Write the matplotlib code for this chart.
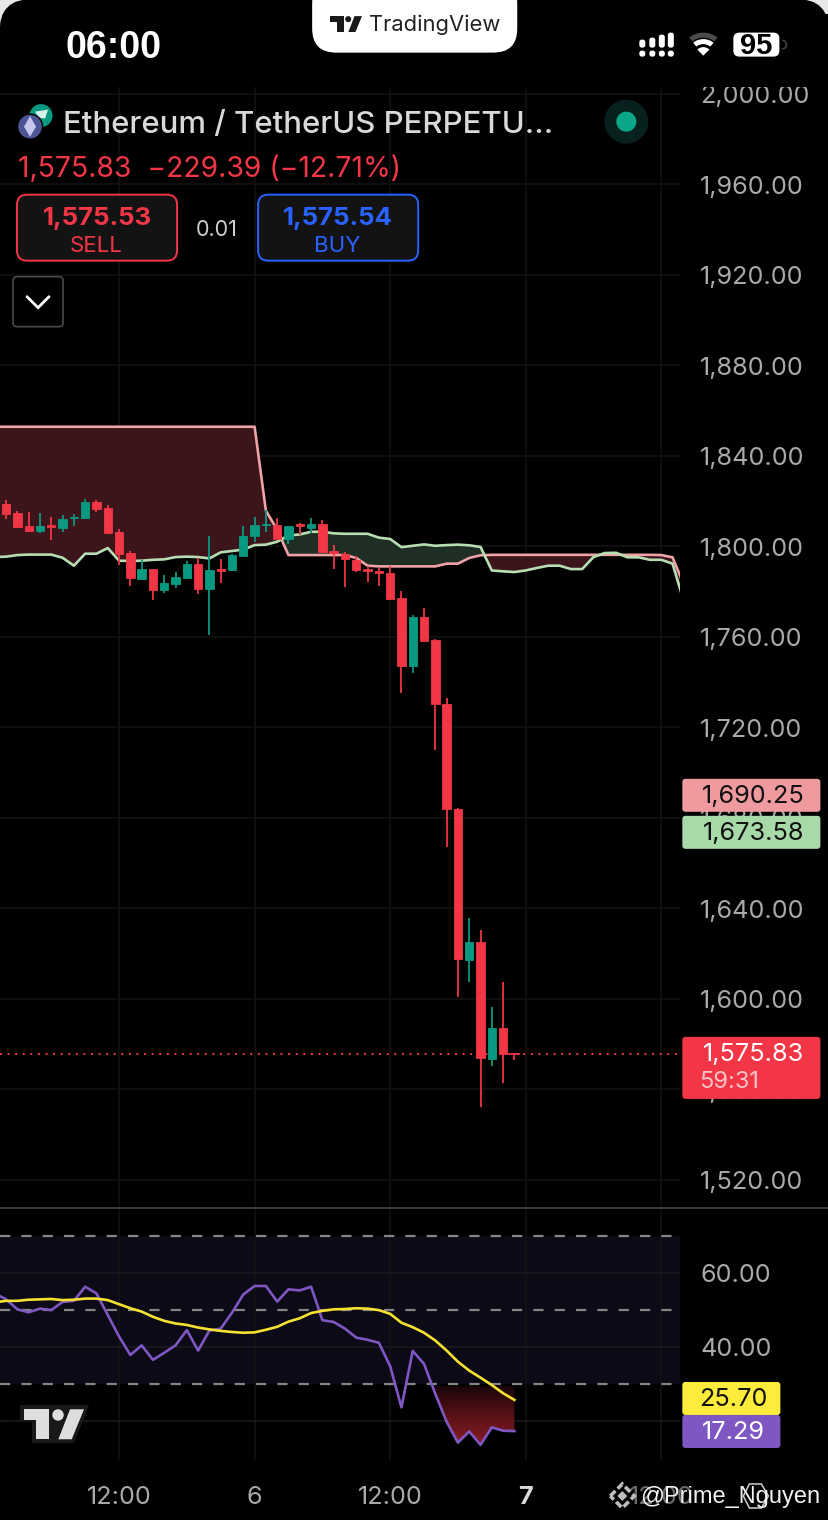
import numpy as np
import matplotlib
matplotlib.use('Agg')
from matplotlib import pyplot as plt
from matplotlib.patches import FancyBboxPatch, Rectangle, Circle, Polygon, Wedge
from matplotlib.colors import LinearSegmentedColormap

# ETH/USDT 1h candles
opens = [1818.5, 1814.7, 1808.8, 1806.7, 1809.2, 1808.0, 1812.5, 1812.6, 1819.5, 1817.0,
         1806.4, 1796.8, 1785.6, 1789.8, 1780.6, 1783.3, 1786.1, 1792.1, 1780.9, 1789.8,
         1789.3, 1795.8, 1804.6, 1809.4, 1809.4, 1803.2, 1809.7, 1808.0, 1809.9, 1797.7,
         1796.7, 1794.0, 1789.9, 1788.9, 1788.0, 1777.1, 1747.2, 1768.8, 1758.5, 1730.1,
         1684.0, 1617.2, 1625.2, 1573.6, 1586.9, 1576.1]
closes = [1814.4, 1808.5, 1806.7, 1809.1, 1808.6, 1812.2, 1813.0, 1819.5, 1816.6, 1806.0,
          1796.7, 1785.9, 1789.8, 1780.8, 1783.6, 1786.2, 1792.3, 1780.9, 1789.5, 1789.2,
          1796.3, 1804.6, 1809.2, 1809.9, 1803.2, 1808.8, 1809.1, 1809.9, 1797.3, 1797.1,
          1794.3, 1789.6, 1789.2, 1788.1, 1776.8, 1747.2, 1768.8, 1758.1, 1730.1, 1684.0,
          1617.7, 1625.3, 1573.9, 1586.9, 1575.7, 1575.83]
highs = [1820.6, 1815.4, 1815.0, 1814.7, 1812.9, 1813.8, 1814.4, 1820.9, 1820.6, 1818.2,
         1807.6, 1797.7, 1793.7, 1789.9, 1787.3, 1788.7, 1793.3, 1794.6, 1804.4, 1794.5,
         1796.7, 1809.1, 1812.9, 1816.1, 1812.6, 1809.1, 1810.2, 1812.6, 1811.7, 1800.5,
         1797.3, 1795.8, 1791.4, 1790.5, 1791.1, 1780.0, 1769.6, 1772.8, 1759.0, 1733.0,
         1684.4, 1635.8, 1630.2, 1596.6, 1607.5, 1576.1]
lows = [1812.0, 1807.9, 1806.1, 1805.8, 1802.9, 1806.1, 1809.1, 1812.6, 1815.3, 1805.5,
        1791.7, 1782.3, 1784.9, 1776.4, 1779.3, 1781.4, 1785.9, 1778.7, 1760.9, 1783.7,
        1789.2, 1795.5, 1801.7, 1806.1, 1803.2, 1800.8, 1804.9, 1805.8, 1797.3, 1789.9,
        1782.0, 1788.4, 1784.0, 1782.5, 1776.1, 1735.1, 1744.0, 1757.5, 1710.0, 1667.3,
        1601.0, 1607.6, 1552.4, 1570.1, 1563.0, 1573.0]
green_bars = [3, 5, 6, 7, 12, 14, 15, 16, 18, 20, 21, 22, 23, 25, 27, 36, 41, 43]

# cloud lines, first value sits one bar left of the first candle
cloud_green = [1795.2, 1795.4, 1796.1, 1796.3, 1796.3, 1796.3, 1794.9, 1791.4, 1796.7, 1796.7,
               1799.2, 1793.6, 1793.5, 1793.6, 1794.0, 1794.2, 1795.2, 1795.4, 1795.2, 1794.6,
               1797.3, 1797.9, 1798.5, 1800.5, 1800.7, 1802.0, 1804.8, 1805.2, 1806.4, 1806.4,
               1805.7, 1805.5, 1805.5, 1805.5, 1803.8, 1803.2, 1799.6, 1800.2, 1800.8, 1800.2,
               1800.5, 1800.7, 1800.4, 1799.7, 1789.3, 1788.9, 1788.6, 1789.3, 1790.4, 1791.4,
               1791.4, 1789.9, 1789.9, 1795.2, 1797.0, 1797.1, 1795.1, 1795.1, 1794.0, 1794.0,
               1792.3, 1775.6]
cloud_pink = [1852.8] * 24 + [1815.7, 1807.3] + [1796.1] * 6 + \
             [1794.8, 1791.4, 1791.1, 1791.1, 1791.1, 1791.1, 1791.1, 1791.1, 1792.3, 1792.3,
              1794.8, 1796.0] + [1796.2] * 15 + [1796.1, 1795.1, 1783.0]

# RSI panel
rsi = [54.4, 52.8, 50.1, 49.3, 50.3, 49.9, 52.1, 52.4, 56.2, 54.4,
       48.6, 42.8, 37.8, 40.4, 36.5, 38.4, 40.4, 44.5, 39.0, 44.4,
       44.9, 49.2, 54.1, 56.4, 56.4, 52.2, 55.5, 55.2, 56.2, 47.2,
       46.7, 44.9, 42.5, 41.9, 41.1, 34.8, 23.7, 38.9, 35.4, 27.3,
       19.8, 14.2, 17.2, 13.6, 18.3, 17.4, 17.29]
rsi_ma = [52.0, 52.4, 52.4, 52.7, 52.8, 52.9, 52.6, 52.7, 53.0, 53.0,
          52.6, 51.5, 50.4, 49.5, 48.1, 47.0, 46.3, 45.9, 45.2, 44.7,
          44.3, 44.0, 43.8, 43.9, 44.6, 45.4, 46.8, 47.7, 49.1, 49.7,
          50.1, 50.2, 50.4, 50.3, 49.9, 48.9, 46.5, 45.3, 43.8, 41.7,
          39.0, 36.0, 33.6, 31.7, 29.7, 27.5, 25.7]

price_ticks = [1520, 1560, 1600, 1640, 1680, 1720, 1760, 1800, 1840, 1880, 1920, 1960, 2000]
rsi_ticks = [20, 40, 60]
rsi_levels = [30, 50, 70]
time_ticks = [10, 22, 34, 46, 58]
time_labels = ['12:00', '6', '12:00', '7', '12:00']
last_price = 1575.83

RED = '#F23645'
GREEN = '#089981'
GRID = '#131313'
LABEL = '#A9A9A9'
W, H = 828, 1520
AXIS_FONT = 18.2

plt.rcParams['font.family'] = ['Inter', 'DejaVu Sans']

fig = plt.figure(figsize=((W + 0.4) / 100, (H + 0.4) / 100), dpi=100, facecolor='#E8E8E8')


def px_axes(left, top, right, bottom, **kw):
    # axes placed by screenshot pixels
    return fig.add_axes([left / W, 1 - bottom / H, (right - left) / W, (bottom - top) / H], **kw)


# black phone screen with rounded top corners
base = px_axes(0, 0, W, H, zorder=0)
base.set_xlim(0, W)
base.set_ylim(H, 0)
base.axis('off')
base.add_patch(FancyBboxPatch((14, 14), W - 28, H + 100, boxstyle='round,pad=0,rounding_size=14',
                              mutation_aspect=1, fc='black', ec='black', lw=28 * 0.72))

# price panel
ax = px_axes(0, 87, 680, 1208, zorder=1)
ax.patch.set_alpha(0)
ax.set_xlim(-0.54, 59.69)
ax.set_ylim(1507.6, 2003.1)
for s in ax.spines.values():
    s.set_visible(False)
ax.set_axisbelow(True)
ax.grid(True, color=GRID, lw=1.1)
ax.set_xticks(time_ticks)
ax.set_yticks(price_ticks)
ax.set_yticklabels([f'{p:,.2f}' for p in price_ticks], fontsize=AXIS_FONT, color=LABEL)
ax.yaxis.tick_right()
ax.tick_params(axis='y', length=0, pad=14.2)
ax.tick_params(axis='x', length=0, labelbottom=False)

x_cloud = np.arange(-1, len(cloud_green) - 1)
green_line = np.array(cloud_green)
pink_line = np.array(cloud_pink)
ax.fill_between(x_cloud, green_line, pink_line, where=pink_line >= green_line, interpolate=True,
                color='#3B1519', lw=0, zorder=1.5)
ax.fill_between(x_cloud, green_line, pink_line, where=pink_line <= green_line, interpolate=True,
                color='#1E2E22', lw=0, zorder=1.5)
ax.plot(x_cloud, pink_line, color='#EFA3A6', lw=1.9, zorder=2)
ax.plot(x_cloud, green_line, color='#B7DDB3', lw=1.9, zorder=2.1)

ax.axhline(last_price, color=RED, lw=1.4, linestyle=(0, (1, 2.9)), zorder=2.2)

bars = np.arange(len(opens))
colors = [GREEN if i in green_bars else RED for i in bars]
ax.vlines(bars, lows, highs, colors=colors, lw=1.3, zorder=3)
ax.bar(bars, np.abs(np.array(closes) - np.array(opens)), bottom=np.minimum(opens, closes), width=0.74,
       color=colors, edgecolor=colors, lw=0.6, zorder=3.1)

# RSI panel
ax2 = px_axes(0, 1208, 680, 1460, zorder=1)
ax2.patch.set_alpha(0)
ax2.set_xlim(-0.54, 59.69)
ax2.set_ylim(9.51, 77.44)
for s in ax2.spines.values():
    s.set_visible(False)
ax2.set_axisbelow(True)
ax2.grid(True, color='#1B1A20', lw=1.1)
ax2.grid(True, axis='x', color=GRID, lw=1.1)
ax2.set_xticks(time_ticks)
ax2.set_xticklabels(time_labels, fontsize=AXIS_FONT, color=LABEL)
ax2.get_xticklabels()[3].set_color('#D8D8D8')
ax2.get_xticklabels()[3].set_fontweight('bold')
ax2.get_xticklabels()[4].set_color('#6A6A6A')
ax2.set_yticks(rsi_ticks)
ax2.set_yticklabels([f'{v:.2f}' for v in rsi_ticks], fontsize=AXIS_FONT, color=LABEL)
ax2.yaxis.tick_right()
ax2.tick_params(axis='y', length=0, pad=14.2)
ax2.tick_params(axis='x', length=0, pad=18.5)

ax2.axhspan(min(rsi_levels), max(rsi_levels), color='#0C0A16', lw=0, zorder=0.5)
for lev in rsi_levels:
    ax2.axhline(lev, color='#858585', lw=1.6, linestyle=(0, (4.6, 5.0)), zorder=1)

x_rsi = np.arange(-1, len(rsi) - 1)
rsi_arr = np.array(rsi)
oversold_top = 29.4
# only the last leg below 30 gets the red gradient
poly = ax2.fill_between(x_rsi, rsi_arr, oversold_top, where=(rsi_arr < oversold_top) & (x_rsi >= 37),
                        interpolate=True, color='none', lw=0)
cmap = LinearSegmentedColormap.from_list('os', ['#1A0508', '#5A1217', '#8C1C24'])
im = ax2.imshow(np.linspace(0, 1, 64).reshape(-1, 1), cmap=cmap, origin='upper', aspect='auto',
                extent=[35, 46, 13, oversold_top], zorder=1.5)
im.set_clip_path(poly.get_paths()[0], transform=ax2.transData)
ax2.set_xlim(-0.54, 59.69)
ax2.set_ylim(9.51, 77.44)
ax2.plot(x_rsi, rsi, color='#7E57C2', lw=1.9, zorder=2)
ax2.plot(x_rsi, rsi_ma, color='#F5E130', lw=1.9, zorder=2.1)

# everything else sits on a pixel overlay above the panels
ov = px_axes(0, 0, W, H, zorder=5)
ov.set_xlim(0, W)
ov.set_ylim(H, 0)
ov.axis('off')
ov.patch.set_alpha(0)


def box(x0, y0, x1, y1, fc, ec='none', r=3, lw=0.0, z=3):
    ov.add_patch(FancyBboxPatch((x0 + r, y0 + r), x1 - x0 - 2 * r, y1 - y0 - 2 * r,
                                boxstyle=f'round,pad={r},rounding_size={r}', fc=fc, ec=ec, lw=lw, zorder=z))


def tv_logo(x, y, s, color):
    # TradingView mark, x/y = top left of the T
    ov.add_patch(Polygon([(x, y), (x + 25.3 * s, y), (x + 25.3 * s, y + 30 * s), (x + 12 * s, y + 30 * s),
                          (x + 12 * s, y + 10.6 * s), (x, y + 10.6 * s)], fc=color, ec='none', zorder=6))
    ov.add_patch(Circle((x + 34 * s, y + 5.7 * s), 5.7 * s, fc=color, ec='none', zorder=6))
    ov.add_patch(Polygon([(x + 46 * s, y), (x + 60 * s, y), (x + 47.7 * s, y + 30 * s), (x + 34.3 * s, y + 30 * s)],
                         fc=color, ec='none', zorder=6))


# clip the top of the 2,000.00 label
ov.add_patch(Rectangle((680, 14), 148, 73, fc='black', ec='none', zorder=1))
ov.plot([0, W], [1208.5, 1208.5], color='#3C3C3C', lw=1.4, zorder=1)

# price tags
box(682, 779, 820, 812, '#EF9A9F')
ov.text(753, 796, '1,690.25', color='#111111', fontsize=AXIS_FONT, ha='center', va='center', zorder=6)
box(682, 816, 820, 849, '#A8D9A8')
ov.text(753, 833, '1,673.58', color='#111111', fontsize=AXIS_FONT, ha='center', va='center', zorder=6)
box(682, 1037, 820, 1099, RED)
ov.text(753, 1054, '1,575.83', color='white', fontsize=AXIS_FONT, ha='center', va='center', zorder=6)
ov.text(699, 1082, '59:31', color='#F9C4C8', fontsize=17, ha='left', va='center', zorder=6)
box(682, 1382, 780, 1415, '#FFEB3B')
ov.text(733, 1399, '25.70', color='#111111', fontsize=AXIS_FONT, ha='center', va='center', zorder=6)
box(682, 1415, 780, 1448, '#7E57C2')
ov.text(733, 1432.5, '17.29', color='white', fontsize=AXIS_FONT, ha='center', va='center', zorder=6)

# status bar
ov.text(65, 47.5, '06:00', color='white', fontsize=27, fontweight='bold', family=['Liberation Sans'],
        ha='left', va='center')
box(312, -20, 517, 53, 'white', r=24, z=4)
tv_logo(330, 16.5, 0.53, '#1A1A1A')
ov.text(369, 25, 'TradingView', color='#222222', fontsize=15.8, ha='left', va='center', zorder=6)

for cx, top in zip([642, 652, 661.5, 670.5], [40, 38, 35, 33]):
    box(cx - 3, top, cx + 3, 48, 'white', r=2.5)
    box(cx - 3, 51, cx + 3, 57, 'white', r=2.5)
ov.add_patch(Wedge((703, 56), 23, 232, 308, width=5, fc='#4A4A4A', ec='none', zorder=5))
ov.add_patch(Wedge((703, 56), 16.5, 232, 308, width=5, fc='white', ec='none', zorder=5))
ov.add_patch(Wedge((703, 56), 8.5, 225, 315, fc='white', ec='none', zorder=5))
box(733, 33, 779, 57, 'white', r=6)
ov.text(756, 45.5, '95', color='black', fontsize=21, fontweight='bold', family=['Liberation Sans'],
        ha='center', va='center', zorder=6)
ov.add_patch(Wedge((782, 45), 5, -90, 90, width=1.6, fc='#444444', ec='none', zorder=5))

# symbol header
ov.add_patch(Circle((41, 116), 11.5, fc=GREEN, ec='none', zorder=3))
ov.add_patch(Polygon([(35, 112), (48, 110), (45, 119), (39, 118)], fc='#D8F0EA', ec='none', zorder=3.1))
ov.add_patch(Circle((30, 127), 12.5, fc='#4E5596', ec='black', lw=1, zorder=3.2))
ov.add_patch(Polygon([(30, 116.5), (36, 127), (30, 137), (24, 127)], fc='#C6C8F0', ec='none', zorder=3.3))
ov.text(63, 125, 'Ethereum / TetherUS PERPETU...', color='#D9D9D9', fontsize=22.4, fontweight='medium',
        ha='left', va='center', zorder=6)
ov.text(18, 169, '1,575.83  \u2212229.39 (\u221212.71%)', color=RED, fontsize=20.4, ha='left', va='center', zorder=6)

box(17, 195, 177, 261, '#131313', ec=RED, r=10, lw=1.4)
ov.text(97, 218, '1,575.53', color=RED, fontsize=18.6, fontweight='bold', ha='center', va='center', zorder=6)
ov.text(96, 246, 'SELL', color=RED, fontsize=16, ha='center', va='center', zorder=6)
ov.text(217, 230, '0.01', color='#CFCFCF', fontsize=15.5, ha='center', va='center', zorder=6)
box(258, 195, 418, 261, '#131313', ec='#2962FF', r=10, lw=1.4)
ov.text(338, 218, '1,575.54', color='#2962FF', fontsize=18.6, fontweight='bold', ha='center', va='center', zorder=6)
ov.text(337, 246, 'BUY', color='#2962FF', fontsize=16, ha='center', va='center', zorder=6)

box(13, 277, 63, 327, 'black', ec='#4A4A4A', r=4, lw=1.2)
ov.plot([27, 38, 49], [297, 308, 297], color='white', lw=2, solid_capstyle='round', solid_joinstyle='miter', zorder=6)

ov.add_patch(Circle((626, 122), 22, fc='#08211E', ec='none', zorder=3))
ov.add_patch(Circle((626, 122), 10, fc='#0BA789', ec='none', zorder=3.1))

# TradingView watermark in the RSI panel
ov.add_patch(Polygon([(20, 1405), (89, 1405), (74, 1443), (32, 1443), (32, 1420), (20, 1420)],
                     fc='#191919', ec='none', zorder=3))
tv_logo(24, 1409.3, 1.0, '#DEDEDE')

# screenshot credit on top of the last time label
diamond = [(610, 1496), (622, 1484), (634, 1496), (622, 1508)]
ov.add_patch(Polygon(diamond, fc='none', ec='#BDBDBD', lw=2.6, linestyle=(0, (2, 0.9)), zorder=6))
ov.add_patch(Polygon([(622, 1491), (627, 1496), (622, 1501), (617, 1496)], fc='#BDBDBD', ec='none', zorder=6))
ov.add_patch(Polygon([(749, 1484), (761, 1484), (768, 1496), (761, 1508), (749, 1508), (743, 1496)],
                     fc='none', ec='#CFCFCF', lw=1.1, zorder=6))
ov.text(640, 1497, '@Prime_Nguyen', color='#F2F2F2', fontsize=17, family=['Liberation Sans'],
        ha='left', va='center', zorder=7)

fig.savefig('out.png', dpi=100, facecolor=fig.get_facecolor())
